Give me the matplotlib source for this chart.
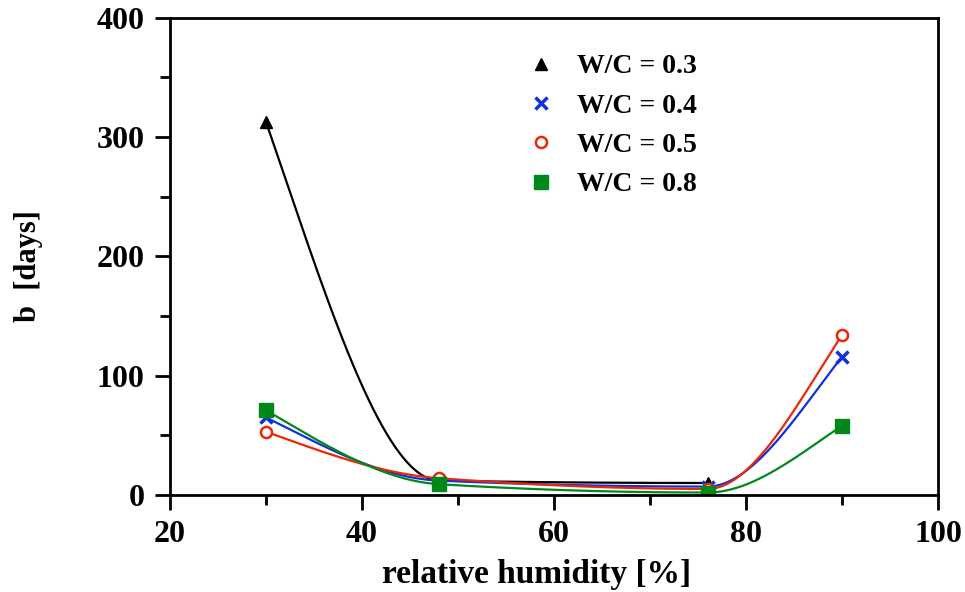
import numpy as np
import matplotlib
matplotlib.use("Agg")
import matplotlib.pyplot as plt
from matplotlib.ticker import MultipleLocator

# relative humidity [%] and b [days] per W/C ratio
rh_03 = [30, 48, 76]
b_03 = [313, 12, 10]
rh = [30, 48, 76, 90]
b_04 = [65, 12, 7, 116]
b_05 = [53, 14, 5, 134]
b_08 = [71, 9, 2, 58]

labels = ["W/C = 0.3", "W/C = 0.4", "W/C = 0.5", "W/C = 0.8"]


def pchip(x, y, xs):
    # monotone cubic (Fritsch-Carlson), used only to smooth the connecting line
    x = np.asarray(x, float); y = np.asarray(y, float)
    h = np.diff(x); d = np.diff(y) / h
    n = len(x)
    m = np.zeros(n)
    for k in range(1, n - 1):
        if d[k - 1] * d[k] > 0:
            w1 = 2 * h[k] + h[k - 1]; w2 = h[k] + 2 * h[k - 1]
            m[k] = (w1 + w2) / (w1 / d[k - 1] + w2 / d[k])
    def end(h0, h1, d0, d1):
        s = ((2 * h0 + h1) * d0 - h0 * d1) / (h0 + h1)
        if np.sign(s) != np.sign(d0):
            s = 0.0
        elif np.sign(d0) != np.sign(d1) and abs(s) > abs(3 * d0):
            s = 3 * d0
        return s
    m[0] = end(h[0], h[1], d[0], d[1])
    m[-1] = end(h[-1], h[-2], d[-1], d[-2])
    out = np.empty_like(xs, dtype=float)
    for i, xv in enumerate(xs):
        k = min(np.searchsorted(x, xv, side="right") - 1, n - 2)
        t = (xv - x[k]) / h[k]
        out[i] = ((2 * t**3 - 3 * t**2 + 1) * y[k] + (t**3 - 2 * t**2 + t) * h[k] * m[k]
                  + (-2 * t**3 + 3 * t**2) * y[k + 1] + (t**3 - t**2) * h[k] * m[k + 1])
    return out


plt.rcParams["font.family"] = ["Liberation Serif", "DejaVu Serif"]
plt.rcParams["font.weight"] = "bold"

fig = plt.figure(figsize=(9.65, 5.92), dpi=100)
ax = fig.add_axes([0.176, 0.164, 0.796, 0.806])

series = [
    (rh_03, b_03, "black", "^", dict(markersize=9)),
    (rh, b_04, "#1030e0", "x", dict(markersize=8, markeredgewidth=2.5)),
    (rh, b_05, "#e82808", "o", dict(markersize=8, markerfacecolor="white", markeredgewidth=1.8)),
    (rh, b_08, "#00891a", "s", dict(markersize=10)),
]
for (xv, yv, col, mk, kw), lab in zip(series, labels):
    xs = np.linspace(xv[0], xv[-1], 300)
    ax.plot(xs, pchip(xv, yv, xs), color=col, lw=1.6)
    ax.plot(xv, yv, ls="none", marker=mk, color=col, label=lab, **kw)

ax.set_xlim(20, 100)
ax.set_ylim(0, 400)
ax.xaxis.set_major_locator(MultipleLocator(20))
ax.xaxis.set_minor_locator(MultipleLocator(10))
ax.yaxis.set_major_locator(MultipleLocator(100))
ax.yaxis.set_minor_locator(MultipleLocator(50))
ax.tick_params(which="both", direction="out", width=2, top=False, right=False, labelsize=23, pad=7)
ax.tick_params(which="major", length=11)
ax.tick_params(which="minor", length=7)
for s in ax.spines.values():
    s.set_linewidth(2)

ax.set_xlabel("relative humidity [%]", fontsize=24, fontweight="bold")
ax.xaxis.set_label_coords(0.477, -0.135)
ax.set_ylabel("b  [days]", fontsize=22, fontweight="bold")
ax.yaxis.set_label_coords(-0.165, 0.48)

ax.legend(loc="upper left", bbox_to_anchor=(0.44, 0.965), frameon=False, fontsize=20,
          handlelength=1.0, handletextpad=0.8, labelspacing=0.5, borderpad=0.2)

fig.savefig("out.png", dpi=100)
